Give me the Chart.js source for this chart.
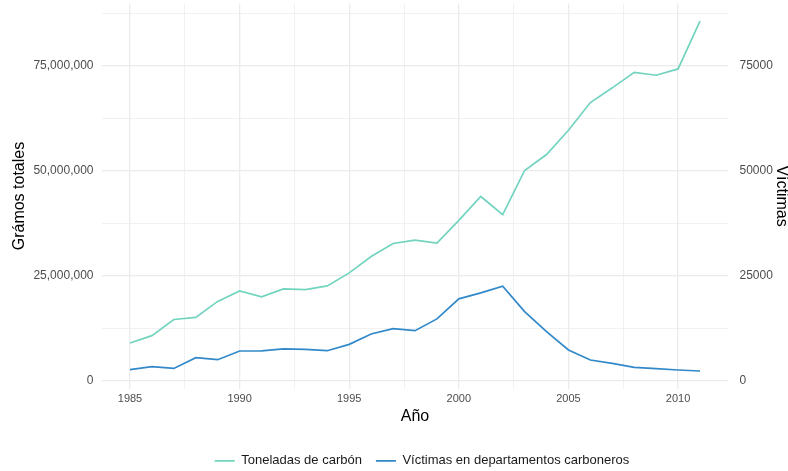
<!DOCTYPE html>
<html>
<head>
<meta charset="utf-8">
<script src="https://cdn.jsdelivr.net/npm/chart.js@4/dist/chart.umd.min.js"></script>
<style>
  html, body { margin: 0; padding: 0; background: #fff; }
  #wrap { width: 788px; height: 471px; }
</style>
</head>
<body>
<div id="wrap"><canvas id="chart"></canvas></div>
<script>
const years = [1985, 1986, 1987, 1988, 1989, 1990, 1991, 1992, 1993, 1994, 1995, 1996, 1997, 1998,
  1999, 2000, 2001, 2002, 2003, 2004, 2005, 2006, 2007, 2008, 2009, 2010, 2011];

// gramos totales (eje izquierdo)
const carbon = [9.0e6, 10.75e6, 14.6e6, 15.1e6, 18.9e6, 21.4e6, 20.0e6, 21.9e6, 21.7e6, 22.6e6,
  25.7e6, 29.6e6, 32.7e6, 33.5e6, 32.8e6, 38.2e6, 43.9e6, 39.6e6, 50.1e6, 53.9e6,
  59.7e6, 66.3e6, 69.8e6, 73.5e6, 72.8e6, 74.3e6, 85.7e6];

// víctimas (eje derecho, 1 víctima = 1000 gramos)
const victimas = [2630, 3340, 2940, 5490, 5010, 7090, 7100, 7570, 7480, 7160,
  8670, 11150, 12420, 11940, 14730, 19510, 20940, 22520, 16480, 11700,
  7330, 4940, 4130, 3180, 2870, 2560, 2320];

const xTicks = [1985, 1990, 1995, 2000, 2005, 2010];
const yTicks = [0, 25000000, 50000000, 75000000];
const y2Ticks = [0, 25000, 50000, 75000];

const seriesLabels = ["Toneladas de carbón", "Víctimas en departamentos carboneros"];
const colors = ["#72d4bf", "#3289c9"];

// ggplot style expansion (5%) on the shared scale
const allLeft = carbon.concat(victimas.map(v => v * 1000));
const lo = Math.min(...allLeft), hi = Math.max(...allLeft);
const yMin = lo - (hi - lo) * 0.05, yMax = hi + (hi - lo) * 0.05;
const xSpan = years[years.length - 1] - years[0];
const xMin = years[0] - xSpan * 0.05, xMax = years[years.length - 1] + xSpan * 0.05;

const font = "'Liberation Sans', Arial, sans-serif";
const gridColor = "#ebebeb";

function withMinor(major, step, min, max) {
  const out = [];
  major.forEach(v => { out.push(v); });
  major.forEach(v => { out.push(v + step / 2); out.push(v - step / 2); });
  return [...new Set(out)].filter(v => v >= min && v <= max).sort((a, b) => a - b);
}

const legendShift = {
  id: "legendShift",
  afterLayout(chart) {
    const lg = chart.legend;
    lg.left += 28; lg.right += 28;
    lg.top += 14; lg.bottom += 14;
  }
};

function noPad(s) {
  s.paddingTop = 0; s.paddingBottom = 0; s.paddingLeft = 0; s.paddingRight = 0;
}

new Chart(document.getElementById("chart"), {
  type: "line",
  data: {
    datasets: [
      {
        label: seriesLabels[0],
        data: years.map((x, i) => ({ x, y: carbon[i] })),
        borderColor: colors[0],
        backgroundColor: colors[0],
        borderWidth: 1.7,
        pointRadius: 0,
        yAxisID: "y"
      },
      {
        label: seriesLabels[1],
        data: years.map((x, i) => ({ x, y: victimas[i] })),
        borderColor: colors[1],
        backgroundColor: colors[1],
        borderWidth: 1.7,
        pointRadius: 0,
        yAxisID: "y2"
      }
    ]
  },
  options: {
    responsive: true,
    maintainAspectRatio: false,
    animation: false,
    layout: { padding: { top: 3.6, bottom: 7.7, left: 0, right: 0 } },
    plugins: {
      tooltip: { enabled: false },
      legend: {
        position: "bottom",
        labels: {
          usePointStyle: true,
          pointStyle: "line",
          pointStyleWidth: 20,
          padding: 14,
          color: "#1a1a1a",
          font: { family: font, size: 13 }
        }
      }
    },
    scales: {
      x: {
        type: "linear",
        min: xMin,
        max: xMax,
        afterBuildTicks: s => { s.ticks = withMinor(xTicks, 5, xMin, xMax).map(value => ({ value })); },
        afterFit: s => { s.height = 37.8; noPad(s); },
        border: { display: false },
        grid: {
          color: gridColor,
          drawTicks: false,
          lineWidth: c => (xTicks.includes(c.tick.value) ? 1.3 : 0.7)
        },
        ticks: {
          autoSkip: false,
          maxRotation: 0,
          padding: 4,
          color: "#4d4d4d",
          font: { family: font, size: 11 },
          callback: v => (xTicks.includes(v) ? String(v) : "")
        },
        title: {
          display: true,
          text: "Año",
          color: "#000",
          padding: { top: 0, bottom: 0 },
          font: { family: font, size: 16 }
        }
      },
      y: {
        position: "left",
        min: yMin,
        max: yMax,
        afterBuildTicks: s => { s.ticks = withMinor(yTicks, 25000000, yMin, yMax).map(value => ({ value })); },
        afterFit: s => { s.width = 101.5; noPad(s); },
        border: { display: false },
        grid: {
          color: gridColor,
          drawTicks: false,
          lineWidth: c => (yTicks.includes(c.tick.value) ? 1.3 : 0.7)
        },
        ticks: {
          autoSkip: false,
          padding: 8,
          color: "#4d4d4d",
          font: { family: font, size: 12 },
          callback: v => (yTicks.includes(v) ? v.toLocaleString("en-US") : "")
        },
        title: {
          display: true,
          text: "Grámos totales",
          color: "#000",
          padding: { top: 10, bottom: 0 },
          font: { family: font, size: 16 }
        }
      },
      y2: {
        position: "right",
        min: yMin / 1000,
        max: yMax / 1000,
        afterBuildTicks: s => { s.ticks = y2Ticks.map(value => ({ value })); },
        afterFit: s => { s.width = 59.5; noPad(s); },
        border: { display: false },
        grid: { display: false, drawTicks: false },
        ticks: {
          autoSkip: false,
          padding: 11,
          color: "#4d4d4d",
          font: { family: font, size: 12 },
          callback: v => String(v)
        },
        title: {
          display: true,
          text: "Víctimas",
          color: "#000",
          padding: { top: -3, bottom: 0 },
          font: { family: font, size: 16 }
        }
      }
    }
  },
  plugins: [legendShift]
});
</script>
</body>
</html>
